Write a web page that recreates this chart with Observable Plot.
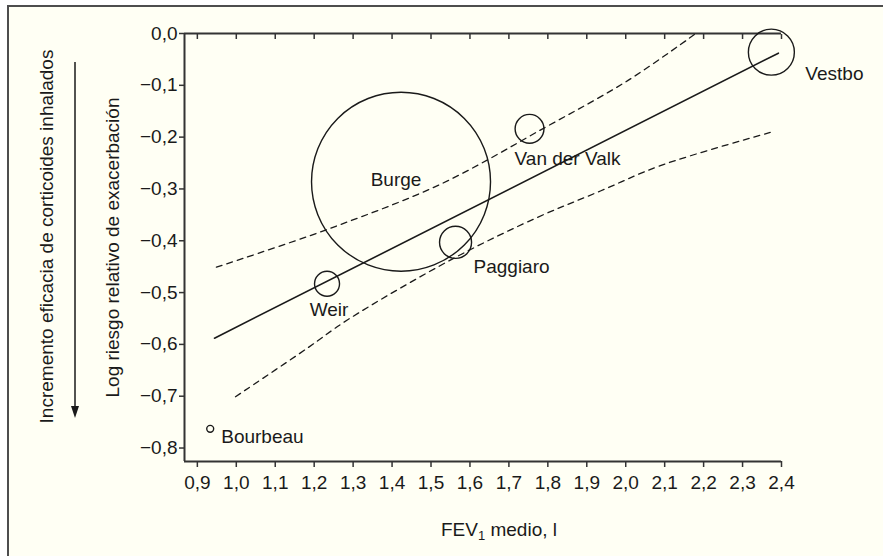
<!DOCTYPE html>
<html><head><meta charset="utf-8">
<script src="https://cdn.jsdelivr.net/npm/d3@7"></script>
<script src="https://cdn.jsdelivr.net/npm/@observablehq/plot@0.6"></script>
<style>
html,body{margin:0;padding:0;background:#fff;width:883px;height:556px;overflow:hidden}
#panel{position:absolute;left:7px;top:5px;right:0;bottom:0;border-left:2px solid #4d4d4d;border-top:2px solid #4d4d4d;background:#fffff4}
#chart{position:absolute;left:0;top:0}
</style></head><body><div id="panel"></div><div id="chart"></div>
<script>
// Studies (bubble = study weight)
const studies = ["Vestbo", "Burge", "Van der Valk", "Paggiaro", "Weir", "Bourbeau"];
const fev1 = [2.374, 1.423, 1.753, 1.563, 1.233, 0.933];
const logRR = [-0.036, -0.286, -0.184, -0.403, -0.483, -0.763];
const weight = [6.6, 100, 2.6, 3.2, 1.95, 0.15];

// Meta-regression line and its confidence band
const fitX = [0.944, 2.392];
const fitY = [-0.588, -0.038];
const upperX = [0.949, 1.234, 1.524, 1.789, 2.005, 2.18];
const upperY = [-0.451, -0.378, -0.291, -0.183, -0.091, 0.0];
const lowerX = [0.998, 1.183, 1.285, 1.558, 1.773, 1.935, 2.089, 2.380];
const lowerY = [-0.701, -0.607, -0.553, -0.434, -0.355, -0.304, -0.255, -0.189];

// Axis ticks and labels
const xTicks = [0.9, 1.0, 1.1, 1.2, 1.3, 1.4, 1.5, 1.6, 1.7, 1.8, 1.9, 2.0, 2.1, 2.2, 2.3, 2.4];
const xTickLabels = ["0,9","1,0","1,1","1,2","1,3","1,4","1,5","1,6","1,7","1,8","1,9","2,0","2,1","2,2","2,3","2,4"];
const yTicks = [0, -0.1, -0.2, -0.3, -0.4, -0.5, -0.6, -0.7, -0.8];
const yTickLabels = ["0,0","\u22120,1","\u22120,2","\u22120,3","\u22120,4","\u22120,5","\u22120,6","\u22120,7","\u22120,8"];
const xDomain = [0.867, 2.4];
const yDomain = [-0.826, 0];
const yTitle = "Log riesgo relativo de exacerbación";
const effectTitle = "Incremento eficacia de corticoides inhalados";

const pts = studies.map((s, i) => ({study: s, x: fev1[i], y: logRR[i], w: weight[i]}));
const fit = fitX.map((x, i) => ({x, y: fitY[i]}));
const upper = upperX.map((x, i) => ({x, y: upperY[i]}));
const lower = lowerX.map((x, i) => ({x, y: lowerY[i]}));

const FONT = '"Liberation Sans", Arial, sans-serif';
const FS = 19;
const ink = "#1a1a1a";

const labelStyle = {
  "Vestbo": {dx: 34, dy: 22, textAnchor: "start"},
  "Burge": {dx: -5, dy: -2, textAnchor: "middle"},
  "Van der Valk": {dx: 38, dy: 30, textAnchor: "middle"},
  "Paggiaro": {dx: 56, dy: 25, textAnchor: "middle"},
  "Weir": {dx: 2, dy: 26, textAnchor: "middle"},
  "Bourbeau": {dx: 11, dy: 8, textAnchor: "start"}
};

const labelMarks = studies.map(s => Plot.text(pts.filter(d => d.study === s), {
  x: "x", y: "y", text: "study", fontSize: FS, fill: ink, ...labelStyle[s]
}));

const chart = Plot.plot({
  width: 883, height: 556,
  marginLeft: 184, marginRight: 102, marginTop: 33, marginBottom: 95,
  style: {background: "transparent", fontFamily: FONT, color: ink, overflow: "visible"},
  x: {domain: xDomain},
  y: {domain: yDomain},
  r: {type: "sqrt", domain: [0, 100], range: [0, 89.5]},
  marks: [
    Plot.ruleY([yDomain[1]], {stroke: "#333", strokeWidth: 2}),
    Plot.ruleY([yDomain[0]], {stroke: "#333", strokeWidth: 2}),
    Plot.ruleX([xDomain[0]], {stroke: "#333", strokeWidth: 2}),
    Plot.axisX(xTicks, {anchor: "bottom", tickSize: 6, tickPadding: 8, fontSize: FS, stroke: "#333", strokeWidth: 1.5,
      tickFormat: d => xTickLabels[xTicks.indexOf(d)], label: null}),
    Plot.axisX(xTicks, {anchor: "top", tickSize: -5, fontSize: 1, stroke: "#333", strokeWidth: 1.5,
      tickFormat: () => "", label: null}),
    Plot.axisY(yTicks, {anchor: "left", tickSize: 5, tickPadding: 2, fontSize: FS, stroke: "#333", strokeWidth: 1.5,
      tickFormat: d => yTickLabels[yTicks.indexOf(d)], label: null}),
    Plot.line(upper, {x: "x", y: "y", curve: "catmull-rom", stroke: ink, strokeWidth: 1.3, strokeDasharray: "6,5"}),
    Plot.line(lower, {x: "x", y: "y", curve: "catmull-rom", stroke: ink, strokeWidth: 1.3, strokeDasharray: "6,5"}),
    Plot.line(fit, {x: "x", y: "y", stroke: ink, strokeWidth: 1.6}),
    Plot.dot(pts, {x: "x", y: "y", r: "w", fill: "none", stroke: ink, strokeWidth: 1.4}),
    ...labelMarks,
    Plot.text([yTitle], {frameAnchor: "left", textAnchor: "middle", dx: -72, rotate: -90, fontSize: FS, fill: ink}),
    Plot.text([effectTitle], {frameAnchor: "left", textAnchor: "middle", dx: -138, dy: -11, rotate: -90, fontSize: FS, fill: ink})
  ]
});
document.getElementById("chart").appendChild(chart);

// x-axis title with subscript, and the downward arrow beside the effect title
const svg = d3.select(chart);
const t = svg.append("text").attr("x", 499).attr("y", 536).attr("text-anchor", "middle")
  .attr("font-size", FS).attr("font-family", FONT).attr("fill", ink);
t.append("tspan").text("FEV");
t.append("tspan").attr("font-size", 13).attr("dy", 4).text("1");
t.append("tspan").attr("dy", -4).text(" medio, l");
svg.append("line").attr("x1", 75).attr("x2", 75).attr("y1", 62).attr("y2", 408)
  .attr("stroke", ink).attr("stroke-width", 1.5);
svg.append("path").attr("d", "M71,406L79,406L75,418Z").attr("fill", ink);
</script></body></html>
